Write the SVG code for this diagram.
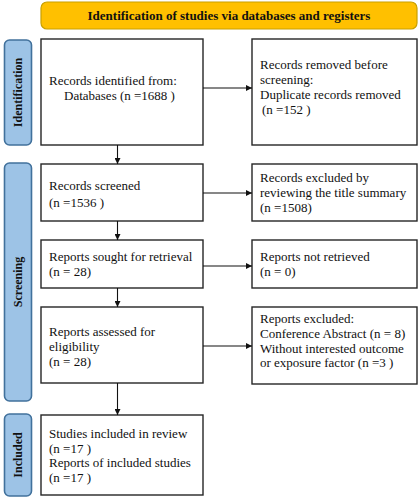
<svg xmlns="http://www.w3.org/2000/svg" width="419" height="500" viewBox="0 0 419 500">
<style>
.box{fill:#fff;stroke:#262626;stroke-width:1.4}
.side{fill:#9DC3E6;stroke:#41719C;stroke-width:1.6}
.t{font-family:"Liberation Serif","Times New Roman",serif;font-size:13px;fill:#111}
.sb{font-family:"Liberation Serif","Times New Roman",serif;font-size:12px;font-weight:bold;fill:#111}
.hd{font-family:"Liberation Serif","Times New Roman",serif;font-size:13px;font-weight:bold;fill:#111}
.ln{stroke:#111;stroke-width:1.1;fill:none}
</style>
<defs>
<marker id="ah" viewBox="0 0 10 10" refX="10" refY="5" markerWidth="6" markerHeight="6" markerUnits="userSpaceOnUse" orient="auto">
<path d="M0,0 L10,5 L0,10 z" fill="#111"/>
</marker>
</defs>
<g id="header">
<rect x="41" y="2" width="376" height="27" rx="6" fill="#FFC000" stroke="#C9A000" stroke-width="1.2"/>
<text class="hd" x="229" y="20" text-anchor="middle">Identification of studies via databases and registers</text>
</g>
<g id="side-identification">
<rect class="side" x="4.5" y="40" width="27" height="105" rx="5"/>
<text class="sb" transform="translate(22,92.5) rotate(-90)" text-anchor="middle">Identification</text>
</g>
<g id="side-screening">
<rect class="side" x="4.5" y="163" width="27" height="238" rx="5"/>
<text class="sb" transform="translate(22,282) rotate(-90)" text-anchor="middle">Screening</text>
</g>
<g id="side-included">
<rect class="side" x="4.5" y="414" width="27" height="82" rx="5"/>
<text class="sb" transform="translate(22,455) rotate(-90)" text-anchor="middle">Included</text>
</g>
<g id="n-identified">
<rect class="box" x="41" y="39" width="162" height="106"/>
<text class="t" x="49" y="85">Records identified from:</text>
<text class="t" x="64" y="99.5">Databases (n =1688 )</text>
</g>
<g id="n-removed">
<rect class="box" x="252" y="39" width="165" height="106"/>
<text class="t" x="260" y="69">Records removed before</text>
<text class="t" x="260" y="84">screening:</text>
<text class="t" x="260" y="99">Duplicate records removed</text>
<text class="t" x="262" y="113.5">(n =152 )</text>
</g>
<g id="n-screened">
<rect class="box" x="41" y="164" width="162" height="57"/>
<text class="t" x="49" y="190">Records screened</text>
<text class="t" x="49" y="207">(n =1536 )</text>
</g>
<g id="n-excluded-title">
<rect class="box" x="252" y="164" width="165" height="57"/>
<text class="t" x="260" y="182">Records excluded by</text>
<text class="t" x="260" y="197">reviewing the title summary</text>
<text class="t" x="260" y="212">(n =1508)</text>
</g>
<g id="n-sought">
<rect class="box" x="41" y="240" width="162" height="48"/>
<text class="t" x="49" y="261">Reports sought for retrieval</text>
<text class="t" x="49" y="276">(n = 28)</text>
</g>
<g id="n-not-retrieved">
<rect class="box" x="252" y="240" width="165" height="48"/>
<text class="t" x="260" y="261">Reports not retrieved</text>
<text class="t" x="260" y="276">(n = 0)</text>
</g>
<g id="n-assessed">
<rect class="box" x="41" y="307" width="162" height="76"/>
<text class="t" x="49" y="336">Reports assessed for</text>
<text class="t" x="49" y="351">eligibility</text>
<text class="t" x="49" y="366">(n = 28)</text>
</g>
<g id="n-excluded-reports">
<rect class="box" x="252" y="307" width="165" height="77"/>
<text class="t" x="260" y="323">Reports excluded:</text>
<text class="t" x="260" y="338">Conference Abstract (n = 8)</text>
<text class="t" x="260" y="352.5">Without interested outcome</text>
<text class="t" x="260" y="367">or exposure factor (n =3 )</text>
</g>
<g id="n-included">
<rect class="box" x="41" y="415" width="162" height="80"/>
<text class="t" x="49" y="438">Studies included in review</text>
<text class="t" x="49" y="452.5">(n =17 )</text>
<text class="t" x="49" y="467">Reports of included studies</text>
<text class="t" x="49" y="482">(n =17 )</text>
</g>
<g id="connectors">
<line class="ln" x1="203" y1="88" x2="252" y2="88" marker-end="url(#ah)"/>
<line class="ln" x1="117.5" y1="145" x2="117.5" y2="164" marker-end="url(#ah)"/>
<line class="ln" x1="203" y1="193" x2="252" y2="193" marker-end="url(#ah)"/>
<line class="ln" x1="117.5" y1="221" x2="117.5" y2="240" marker-end="url(#ah)"/>
<line class="ln" x1="203" y1="266" x2="252" y2="266" marker-end="url(#ah)"/>
<line class="ln" x1="117.5" y1="288" x2="117.5" y2="307" marker-end="url(#ah)"/>
<line class="ln" x1="203" y1="346" x2="252" y2="346" marker-end="url(#ah)"/>
<line class="ln" x1="117.5" y1="383" x2="117.5" y2="415" marker-end="url(#ah)"/>
</g>
</svg>
